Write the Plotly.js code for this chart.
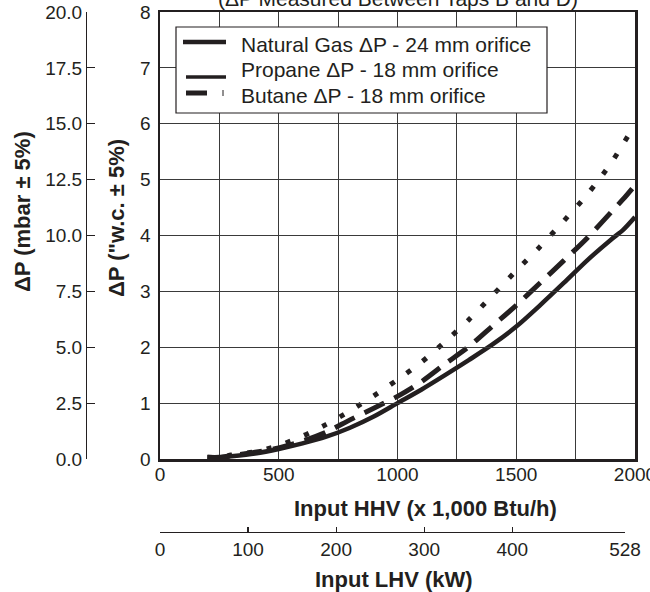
<!DOCTYPE html>
<html>
<head>
<meta charset="utf-8">
<script src="https://cdn.plot.ly/plotly-3.0.1.min.js"></script>
<style>html,body{margin:0;padding:0;background:#fff;}#chart{width:650px;height:592px;}</style>
</head>
<body>
<div id="chart"></div>
<script>
// ---- data ----
var hhv = [200,250,300,400,500,600,700,800,900,1000,1100,1200,1300,1400,1500,1600,1700,1800,1900,1950,2000];
var naturalGas = [0.03,0.03,0.05,0.10,0.18,0.28,0.40,0.56,0.76,1.00,1.24,1.50,1.77,2.05,2.37,2.75,3.15,3.56,3.93,4.10,4.33];
var propane    = [0.03,0.03,0.07,0.13,0.24,0.41,0.62,0.86,1.13,1.42,1.73,2.10,2.49,2.93,3.37,3.80,4.26,4.74,5.30,5.64,5.98];
var butane     = [0.03,0.03,0.06,0.12,0.20,0.32,0.48,0.70,0.91,1.12,1.38,1.70,2.01,2.38,2.75,3.15,3.55,3.96,4.42,4.65,4.90];
var seriesNames = ["Natural Gas \u0394P - 24 mm orifice","Propane \u0394P - 18 mm orifice","Butane \u0394P - 18 mm orifice"];
var hhvTickVals = [0,250,500,750,1000,1250,1500,1750,2000];
var hhvTickText = ["0","","500","","1000","","1500","","2000"];
var wcTickVals = [0,1,2,3,4,5,6,7,8];
var mbarTickVals = [0,2.5,5,7.5,10,12.5,15,17.5,20];
var lhvTickVals = [0,100,200,300,400,528];
var titleText = "(\u0394P Measured Between Taps B and D)";
var xTitle = "Input HHV (x 1,000 Btu/h)";
var x2Title = "Input LHV (kW)";
var yTitle = "\u0394P (\"w.c. \u00b1 5%)";
var y2Title = "\u0394P (mbar \u00b1 5%)";

// ---- layout helpers ----
var W = 650, H = 592;
function px(x){ return x / W; }
function py(y){ return 1 - y / H; }
var ink = "#231f20";
var FONT = "Liberation Sans, Arial, sans-serif";

var traces = [
  {x: [null], y: [null], yaxis: "y2", showlegend: false, hoverinfo: "skip", mode: "lines"},
  {x: [null], y: [null], xaxis: "x2", showlegend: false, hoverinfo: "skip", mode: "lines"},
  {x: hhv, y: naturalGas, mode: "lines", name: seriesNames[0], showlegend: false,
   line: {color: ink, width: 4.5, shape: "spline", smoothing: 0.8}},
  {x: hhv, y: propane, mode: "lines", name: seriesNames[1], showlegend: false,
   line: {color: ink, width: 5, dash: "5px,15px", shape: "spline", smoothing: 0.8}},
  {x: hhv, y: butane, mode: "lines", name: seriesNames[2], showlegend: false,
   line: {color: ink, width: 5, dash: "22px,11px", shape: "spline", smoothing: 0.8}}
];

var axCommon = {showgrid: false, zeroline: false, showline: true, linecolor: ink,
  tickfont: {family: FONT, size: 19, color: ink}, fixedrange: true, ticklabeloverflow: "allow"};

var layout = {
  width: W, height: H,
  margin: {l: 0, r: 0, t: 0, b: 0},
  paper_bgcolor: "#fff", plot_bgcolor: "rgba(0,0,0,0)",
  showlegend: false,
  font: {family: FONT, color: ink},
  xaxis: Object.assign({}, axCommon, {
    domain: [px(160), px(635)], range: [0, 2000], anchor: "y",
    tickmode: "array", tickvals: hhvTickVals, ticktext: hhvTickText,
    showgrid: true, gridcolor: "#3a3a3a", gridwidth: 1.1,
    linewidth: 2.5, mirror: true, ticks: "", ticklabelstandoff: -3
  }),
  yaxis: Object.assign({}, axCommon, {
    domain: [py(459), py(12)], range: [0, 8], anchor: "x",
    tickmode: "array", tickvals: wcTickVals,
    showgrid: true, gridcolor: "#3a3a3a", gridwidth: 1.1,
    linewidth: 2.5, mirror: true, ticks: "", ticklabelstandoff: 3
  }),
  yaxis2: Object.assign({}, axCommon, {
    overlaying: "y", anchor: "free", position: px(86), side: "left",
    range: [0, 20], tickmode: "array", tickvals: mbarTickVals, tickformat: ".1f",
    ticks: "inside", ticklen: 8, tickwidth: 1.2, tickcolor: ink, linewidth: 1.2
  }),
  xaxis2: Object.assign({}, axCommon, {
    domain: [px(160), px(625)], anchor: "free", position: py(532), side: "bottom",
    range: [0, 528], tickmode: "array", tickvals: lhvTickVals,
    ticks: "inside", ticklen: 5, tickwidth: 1.2, tickcolor: ink, linewidth: 1.2
  }),
  shapes: [
    {type: "rect", xref: "paper", yref: "paper", x0: px(176), x1: px(547), y0: py(113), y1: py(27),
     line: {color: ink, width: 1.2}, fillcolor: "#fff", layer: "above"},
    {type: "line", xref: "paper", yref: "paper", x0: px(183), x1: px(226), y0: py(42), y1: py(42),
     line: {color: ink, width: 4.5}, layer: "above"},
    {type: "line", xref: "paper", yref: "paper", x0: px(186), x1: px(226), y0: py(77), y1: py(77),
     line: {color: ink, width: 3.5}, layer: "above"},
    {type: "line", xref: "paper", yref: "paper", x0: px(186), x1: px(207), y0: py(93), y1: py(93),
     line: {color: ink, width: 5}, layer: "above"},
    {type: "line", xref: "paper", yref: "paper", x0: px(223), x1: px(223), y0: py(90), y1: py(96),
     line: {color: ink, width: 1}, layer: "above"}
  ],
  annotations: [
    {text: titleText, xref: "paper", yref: "paper", x: px(398), y: py(-2), xanchor: "center", yanchor: "middle",
     showarrow: false, font: {family: FONT, size: 21, color: ink}},
    {text: "<b>" + xTitle + "</b>", xref: "paper", yref: "paper", x: px(425), y: py(508), xanchor: "center", yanchor: "middle",
     showarrow: false, font: {family: FONT, size: 22, color: ink}},
    {text: "<b>" + x2Title + "</b>", xref: "paper", yref: "paper", x: px(394), y: py(579), xanchor: "center", yanchor: "middle",
     showarrow: false, font: {family: FONT, size: 22, color: ink}},
    {text: "<b>" + yTitle + "</b>", xref: "paper", yref: "paper", x: px(117), y: py(218), xanchor: "center", yanchor: "middle",
     textangle: -90, showarrow: false, font: {family: FONT, size: 22, color: ink}},
    {text: "<b>" + y2Title + "</b>", xref: "paper", yref: "paper", x: px(22), y: py(212), xanchor: "center", yanchor: "middle",
     textangle: -90, showarrow: false, font: {family: FONT, size: 22, color: ink}},
    {text: seriesNames[0], xref: "paper", yref: "paper", x: px(239), y: py(44), xanchor: "left", yanchor: "middle",
     showarrow: false, font: {family: FONT, size: 21, color: ink}},
    {text: seriesNames[1], xref: "paper", yref: "paper", x: px(239), y: py(69.5), xanchor: "left", yanchor: "middle",
     showarrow: false, font: {family: FONT, size: 21, color: ink}},
    {text: seriesNames[2], xref: "paper", yref: "paper", x: px(239), y: py(95), xanchor: "left", yanchor: "middle",
     showarrow: false, font: {family: FONT, size: 21, color: ink}}
  ]
};

Plotly.newPlot("chart", traces, layout, {displayModeBar: false, staticPlot: true});
</script>
</body>
</html>
